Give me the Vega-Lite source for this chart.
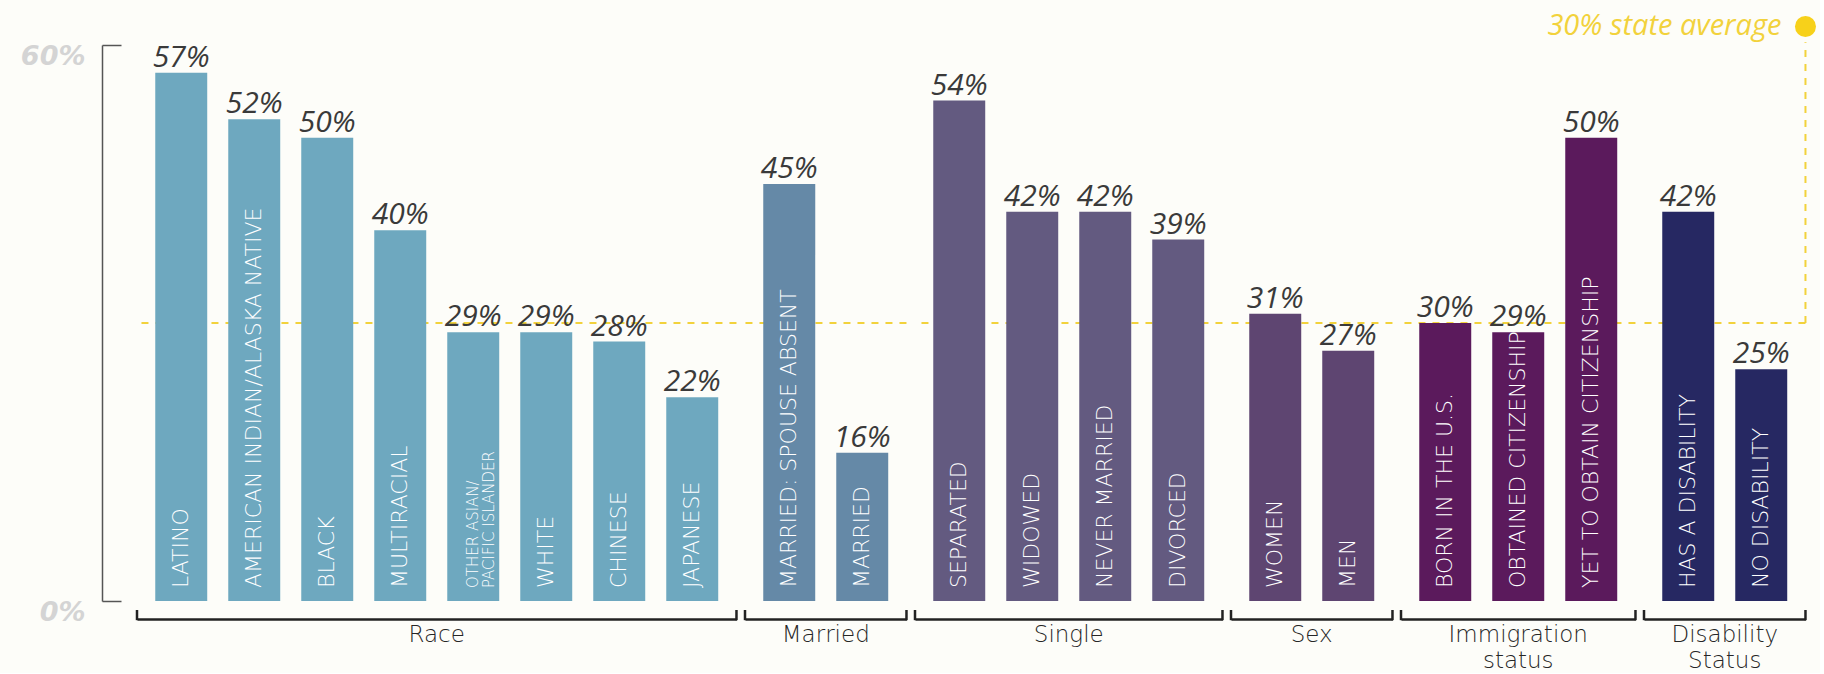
{
  "$schema": "https://vega.github.io/schema/vega-lite/v6.json",
  "background": "#fdfdf9",
  "padding": {"left": 20, "top": 12, "right": 4, "bottom": 0},
  "bounds": "flush",
  "data": {
    "values": [
      {"group": "Race", "label": "LATINO", "value": 0.57},
      {"group": "Race", "label": "AMERICAN INDIAN/ALASKA NATIVE", "value": 0.52},
      {"group": "Race", "label": "BLACK", "value": 0.50},
      {"group": "Race", "label": "MULTIRACIAL", "value": 0.40},
      {"group": "Race", "label": "OTHER ASIAN/\nPACIFIC ISLANDER", "value": 0.29},
      {"group": "Race", "label": "WHITE", "value": 0.29},
      {"group": "Race", "label": "CHINESE", "value": 0.28},
      {"group": "Race", "label": "JAPANESE", "value": 0.22},
      {"group": "Married", "label": "MARRIED: SPOUSE ABSENT", "value": 0.45},
      {"group": "Married", "label": "MARRIED", "value": 0.16},
      {"group": "Single", "label": "SEPARATED", "value": 0.54},
      {"group": "Single", "label": "WIDOWED", "value": 0.42},
      {"group": "Single", "label": "NEVER MARRIED", "value": 0.42},
      {"group": "Single", "label": "DIVORCED", "value": 0.39},
      {"group": "Sex", "label": "WOMEN", "value": 0.31},
      {"group": "Sex", "label": "MEN", "value": 0.27},
      {"group": "Immigration status", "label": "BORN IN THE U.S.", "value": 0.30},
      {"group": "Immigration status", "label": "OBTAINED CITIZENSHIP", "value": 0.29},
      {"group": "Immigration status", "label": "YET TO OBTAIN CITIZENSHIP", "value": 0.50},
      {"group": "Disability Status", "label": "HAS A DISABILITY", "value": 0.42},
      {"group": "Disability Status", "label": "NO DISABILITY", "value": 0.25}
    ]
  },
  "transform": [
    {"window": [{"op": "row_number", "as": "rank"}], "groupby": ["group"]}
  ],
  "facet": {
    "column": {
      "field": "group",
      "type": "nominal",
      "sort": ["Race", "Married", "Single", "Sex", "Immigration status", "Disability Status"],
      "title": null,
      "header": {
        "labelOrient": "bottom",
        "labelExpr": "split(datum.label, ' ')",
        "labelFont": "DejaVu Sans",
        "labelFontWeight": 300,
        "labelFontSize": 23,
        "labelColor": "#262626",
        "labelPadding": 23,
        "labelLineHeight": 26,
        "labelBaseline": "top"
      }
    }
  },
  "spacing": 8,
  "resolve": {"scale": {"x": "independent"}},
  "spec": {
    "width": {"step": 73},
    "height": 556,
    "layer": [
      {
        "transform": [{"filter": "datum.rank == 1"}],
        "mark": {"type": "rule", "color": "#f2d23c", "strokeWidth": 2, "strokeDash": [7, 7]},
        "encoding": {
          "y": {"datum": 0.3, "type": "quantitative", "scale": {"domain": [0, 0.6]}}
        }
      },
      {
        "mark": {"type": "bar"},
        "encoding": {
          "x": {
            "field": "label", "type": "nominal", "sort": null,
            "scale": {"paddingInner": 0.288, "paddingOuter": 0.25},
            "axis": {"title": null, "labels": false, "ticks": false, "domain": true, "domainColor": "#222222", "domainWidth": 2.5, "offset": 18}
          },
          "y": {
            "field": "value", "type": "quantitative",
            "scale": {"domain": [0, 0.6]},
            "axis": {
              "title": null, "values": [0, 0.6], "format": ".0%", "grid": false,
              "offset": 35, "domainColor": "#555555", "domainWidth": 1.5,
              "tickSize": -19, "tickColor": "#555555", "tickWidth": 1.5,
              "labelPadding": 36, "labelOffset": 11,
              "labelFont": "DejaVu Sans", "labelFontStyle": "italic", "labelFontWeight": "bold",
              "labelFontSize": 27, "labelColor": "#d4d4d4"
            }
          },
          "color": {
            "field": "group", "type": "nominal", "legend": null,
            "scale": {
              "domain": ["Race", "Married", "Single", "Sex", "Immigration status", "Disability Status"],
              "range": ["#6ea8bf", "#6589a7", "#635a80", "#5e4571", "#5b1a5c", "#262862"]
            }
          }
        }
      },
      {
        "mark": {"type": "text", "font": "Open Sans", "fontStyle": "italic", "fontSize": 30, "color": "#3a3a3a", "baseline": "alphabetic", "dy": -6},
        "encoding": {
          "x": {"field": "label", "type": "nominal", "sort": null},
          "y": {"field": "value", "type": "quantitative", "scale": {"domain": [0, 0.6]}},
          "text": {"field": "value", "type": "quantitative", "format": ".0%"}
        }
      },
      {
        "mark": {"type": "text", "angle": 270, "align": "left", "baseline": "middle", "dx": 13, "color": "#ffffff", "font": "DejaVu Sans", "fontWeight": 300, "lineBreak": "\n", "lineHeight": 16},
        "encoding": {
          "x": {"field": "label", "type": "nominal", "sort": null},
          "y": {"datum": 0, "type": "quantitative", "scale": {"domain": [0, 0.6]}},
          "text": {"field": "label", "type": "nominal"},
          "size": {"condition": {"test": "indexof(datum.label, 'PACIFIC') >= 0", "value": 15}, "value": 22}
        }
      },
      {
        "transform": [{"filter": "datum.rank == 1"}],
        "mark": {"type": "rule", "color": "#222222", "strokeWidth": 2.5},
        "encoding": {
          "x": {"value": 0},
          "y": {"datum": -0.0097, "type": "quantitative", "scale": {"domain": [0, 0.6]}},
          "y2": {"datum": -0.0207}
        }
      },
      {
        "transform": [{"filter": "datum.rank == 1"}],
        "mark": {"type": "rule", "color": "#222222", "strokeWidth": 2.5},
        "encoding": {
          "x": {"value": "width"},
          "y": {"datum": -0.0097, "type": "quantitative", "scale": {"domain": [0, 0.6]}},
          "y2": {"datum": -0.0207}
        }
      },
      {
        "transform": [{"filter": "datum.label == 'NO DISABILITY'"}],
        "mark": {"type": "rule", "color": "#f2d23c", "strokeWidth": 2, "strokeDash": [7, 7]},
        "encoding": {
          "x": {"value": "width"},
          "y": {"datum": 0.3, "type": "quantitative", "scale": {"domain": [0, 0.6]}},
          "y2": {"datum": 0.603}
        }
      },
      {
        "transform": [{"filter": "datum.label == 'NO DISABILITY'"}],
        "mark": {"type": "point", "filled": true, "opacity": 1, "size": 440, "color": "#f7d11a"},
        "encoding": {
          "x": {"value": "width"},
          "y": {"datum": 0.62, "type": "quantitative", "scale": {"domain": [0, 0.6]}}
        }
      },
      {
        "transform": [{"filter": "datum.label == 'NO DISABILITY'"}],
        "mark": {"type": "text", "align": "right", "baseline": "middle", "dx": -24, "font": "Open Sans", "fontStyle": "italic", "fontSize": 29, "color": "#f2d23c"},
        "encoding": {
          "x": {"value": "width"},
          "y": {"datum": 0.62, "type": "quantitative", "scale": {"domain": [0, 0.6]}},
          "text": {"value": "30% state average"}
        }
      }
    ]
  },
  "config": {
    "view": {"stroke": null},
    "axis": {"grid": false}
  }
}
